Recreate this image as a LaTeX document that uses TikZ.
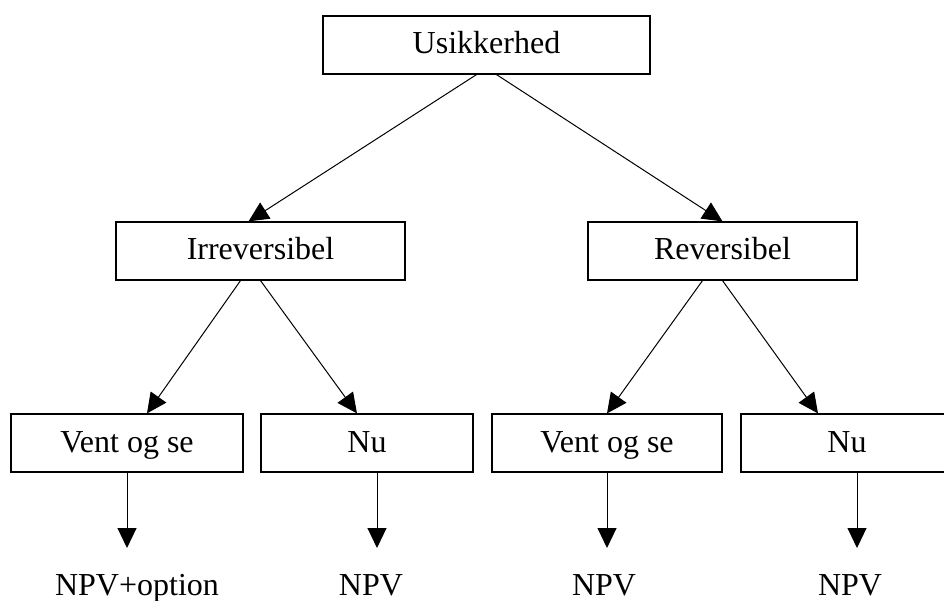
\documentclass[tikz,border=0pt]{standalone}
\usepackage{fontspec}
\setmainfont{Liberation Serif}
\usepackage{tikz}
\usetikzlibrary{positioning, arrows.meta, calc}

\begin{document}
\begin{tikzpicture}[x=1pt, y=-1pt,
    box/.style={draw, line width=1.2pt, minimum height=58pt, inner sep=0pt, text height=18pt, text depth=0pt, font=\fontsize{32}{38}\selectfont},
    outcome/.style={anchor=base, inner sep=0pt, font=\fontsize{32}{38}\selectfont},
    link/.style={line width=1pt, -{Triangle[length=20pt, width=19pt]}}]
        \clip (0,0) rectangle (944,601);
        % tree of boxes
        \node[box, minimum width=327pt] (usik) at (486.5,45) {Usikkerhed};
        \node[box, minimum width=289pt] (irrev) at (260.5,251) {Irreversibel};
        \node[box, minimum width=269pt] (rev) at (722.5,251) {Reversibel};
        \node[box, minimum width=232pt] (ventA) at (127,443) {Vent og se};
        \node[box, minimum width=212pt] (nuA) at (367,443) {Nu};
        \node[box, minimum width=230pt] (ventB) at (607,443) {Vent og se};
        \node[box, minimum width=212pt] (nuB) at (847,443) {Nu};
        % outcomes
        \node[outcome] (npvA) at (137,595) {NPV+option};
        \node[outcome] (npvB) at (371,595) {NPV};
        \node[outcome] (npvC) at (604,595) {NPV};
        \node[outcome] (npvD) at (850,595) {NPV};
        \coordinate (endA) at (127,548);
        \coordinate (endB) at (377,548);
        \coordinate (endC) at (607,548);
        \coordinate (endD) at (857,548);
        \draw[link] ([xshift=-10pt]usik.south) -- ([xshift=-12pt]irrev.north);
        \draw[link] ([xshift=10pt]usik.south) -- (rev.north);
        \draw[link] ([xshift=-20pt]irrev.south) -- ([xshift=20pt]ventA.north);
        \draw[link] (irrev.south) -- ([xshift=-10pt]nuA.north);
        \draw[link] ([xshift=-20pt]rev.south) -- (ventB.north);
        \draw[link] (rev.south) -- ([xshift=-29pt]nuB.north);
        \draw[link] (ventA.south) -- (endA);
        \draw[link] ([xshift=10pt]nuA.south) -- (endB);
        \draw[link] (ventB.south) -- (endC);
        \draw[link] ([xshift=10pt]nuB.south) -- (endD);
      \end{tikzpicture}
\end{document}
